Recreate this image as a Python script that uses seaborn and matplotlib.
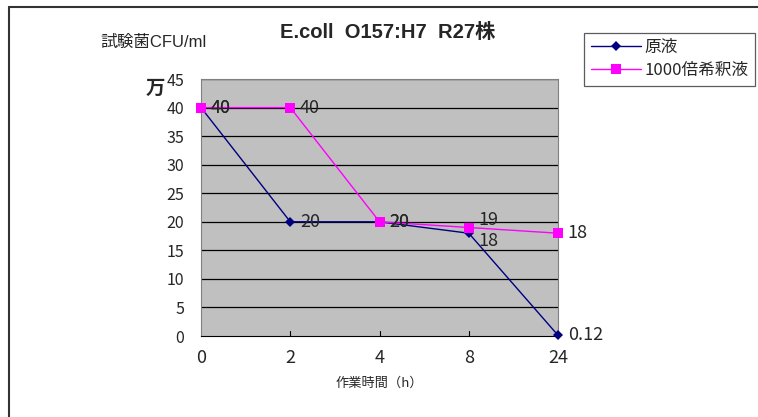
import matplotlib
matplotlib.use("Agg")
import matplotlib.pyplot as plt
from matplotlib.lines import Line2D
import seaborn as sns
import pandas as pd
import numpy as np

# data
hours = ["0", "2", "4", "8", "24"]
stock = [40, 20, 20, 18, 0.12]
diluted = [40, 40, 20, 19, 18]
stock_labels = ["40", "20", "20", "18", "0.12"]
diluted_labels = ["40", "40", "20", "19", "18"]
series_names = ["原液", "1000倍希釈液"]

sns.set_style("white")
plt.rcParams['font.family'] = ['Noto Sans CJK JP', 'DejaVu Sans']

pos = np.arange(len(hours))
df = pd.DataFrame({
    "pos": np.concatenate([pos, pos]),
    "value": stock + diluted,
    "series": [series_names[0]] * len(hours) + [series_names[1]] * len(hours),
})

fig = plt.figure(figsize=(7.58, 4.17), dpi=100)
# outer frame: only top and left edges visible
fig.add_artist(Line2D([0.0119, 1.0], [0.9844, 0.9844], transform=fig.transFigure,
                      color="#333333", linewidth=1.5))
fig.add_artist(Line2D([0.0119, 0.0119], [0.0, 0.9844], transform=fig.transFigure,
                      color="#333333", linewidth=1.5))

ax = fig.add_axes([0.2652, 0.1942, 0.4710, 0.6163])
ax.set_facecolor("#C0C0C0")

colors = {series_names[0]: "#000080", series_names[1]: "#FF00FF"}
markers = {series_names[0]: "D", series_names[1]: "s"}
sizes = {series_names[0]: 5, series_names[1]: 7}
for name in series_names:
    sub = df[df["series"] == name]
    sns.lineplot(data=sub, x="pos", y="value", ax=ax, color=colors[name],
                 marker=markers[name], markersize=sizes[name], markeredgewidth=0,
                 linewidth=1.0, label=name, clip_on=False, zorder=3)

ax.set_xlim(0, len(hours) - 1)
ax.set_ylim(0, 45)
ax.set_yticks(range(0, 46, 5))
ax.set_xticks(pos)
ax.set_xticklabels(hours, fontsize=13)
ax.tick_params(axis="y", labelsize=11.5, length=0, pad=12)
ax.tick_params(axis="x", length=0, pad=9)
for y in range(5, 46, 5):
    ax.axhline(y, color="black", linewidth=0.9, zorder=1)
for x in pos[1:-1]:
    ax.plot([x, x], [0, 0.9], color="black", linewidth=0.8, zorder=2)
ax.set_xlabel("作業時間（h）", fontsize=9.5, labelpad=7)
ax.set_ylabel("")
for side in ["top", "right", "left"]:
    ax.spines[side].set_color("#808080")
    ax.spines[side].set_linewidth(0.8)
ax.spines["bottom"].set_color("black")

# data labels
for i, (v, t) in enumerate(zip(stock, stock_labels)):
    dy = -1.3 if i == 3 else 0
    ax.annotate(t, (i, v + dy), xytext=(7, 0), textcoords="offset points",
                fontsize=13, va="center", ha="left", annotation_clip=False)
for i, (v, t) in enumerate(zip(diluted, diluted_labels)):
    dy = 1.3 if i == 3 else 0
    ax.annotate(t, (i, v + dy), xytext=(7, 0), textcoords="offset points",
                fontsize=13, va="center", ha="left", annotation_clip=False)

fig.text(0.511, 0.922, "E.coll  O157:H7  R27株", fontsize=14.5, fontweight="bold",
         family=['Liberation Sans', 'Noto Sans CJK JP'], ha="center", va="center")
fig.text(0.132, 0.897, "試験菌CFU/ml", fontsize=12, family=['Liberation Sans', 'Noto Sans CJK JP'],
         ha="left", va="center")
fig.text(0.205, 0.788, "万", fontsize=14, fontweight="bold", ha="center", va="center")

leg = ax.legend(loc="upper left", bbox_to_anchor=(0.771, 0.922), bbox_transform=fig.transFigure,
                frameon=True, fancybox=False, fontsize=12, borderpad=0.4,
                handlelength=3.0, handletextpad=0.2, labelspacing=0.35, borderaxespad=0)
leg.get_frame().set_edgecolor("#333333")
leg.get_frame().set_linewidth(0.9)

fig.savefig("out.png", dpi=100)
